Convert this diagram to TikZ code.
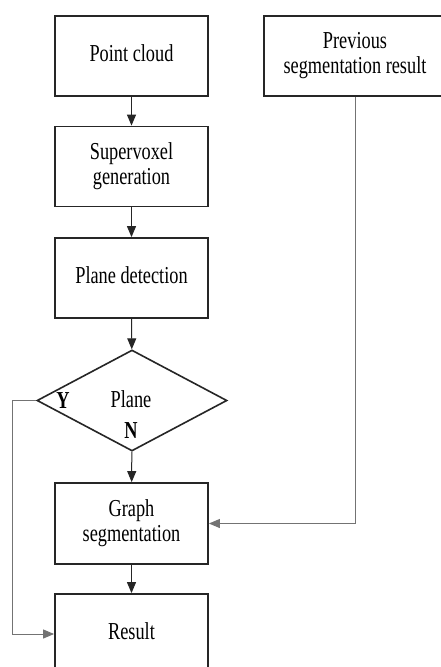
\documentclass[tikz,border=0pt]{standalone}
\usepackage{fontspec}
\setmainfont{Liberation Serif}
\usetikzlibrary{shapes.geometric,arrows.meta}
\newcommand\stx[1]{\scalebox{1}[1.33]{\fontsize{18.3}{18.8}\selectfont\begin{tabular}{@{}c@{}}#1\end{tabular}}}
\tikzset{
  boxnode/.style={draw=black!85, line width=1.8pt, minimum width=153pt, minimum height=80pt, inner sep=0pt, align=center},
  decnode/.style={draw=black!85, line width=1.6pt, diamond, minimum width=190pt, minimum height=101pt, inner sep=0pt},
  lab/.style={inner sep=0pt},
  flow/.style={draw=black!85, line width=1pt, -{Triangle[length=11pt,width=9pt]}},
  gflow/.style={draw=black!55, line width=1pt, -{Triangle[length=11pt,width=9pt]}}
}
\begin{document}
\begin{tikzpicture}[x=1pt,y=-1pt]
\clip (0,0) rectangle (441,667);
\fill[white] (0,0) rectangle (441,667);
\node[boxnode] (pc) at (131.5,56) {\stx{Point cloud}};
\node[boxnode] (sv) at (131.5,166.5) {\stx{Supervoxel\\generation}};
\node[boxnode] (pd) at (131.5,278) {\stx{Plane detection}};
\node[decnode] (dia) at (132,400.5) {};
\node[lab] (pl) at (131,402) {\stx{Plane}};
\node[lab] (y) at (63,403) {\stx{\textbf{Y}}};
\node[lab] (n) at (131,433) {\stx{\textbf{N}}};
\node[boxnode, minimum height=81pt] (gs) at (131.5,523.5) {\stx{Graph\\segmentation}};
\node[boxnode] (res) at (131.5,634) {\stx{Result}};
\node[boxnode, minimum width=182pt] (prev) at (355,56) {\stx{Previous\\segmentation result}};
\coordinate (yl) at (12,400.5);
\draw[flow] (pc) -- (sv);
\draw[flow] (sv) -- (pd);
\draw[flow] (pd) -- (dia);
\draw[flow] (dia) -- (gs);
\draw[flow] (gs) -- (res);
\draw[gflow] (prev.south) |- (gs.east);
\draw[gflow] (dia.west) -- (yl) |- (res.west);
\end{tikzpicture}
\end{document}
